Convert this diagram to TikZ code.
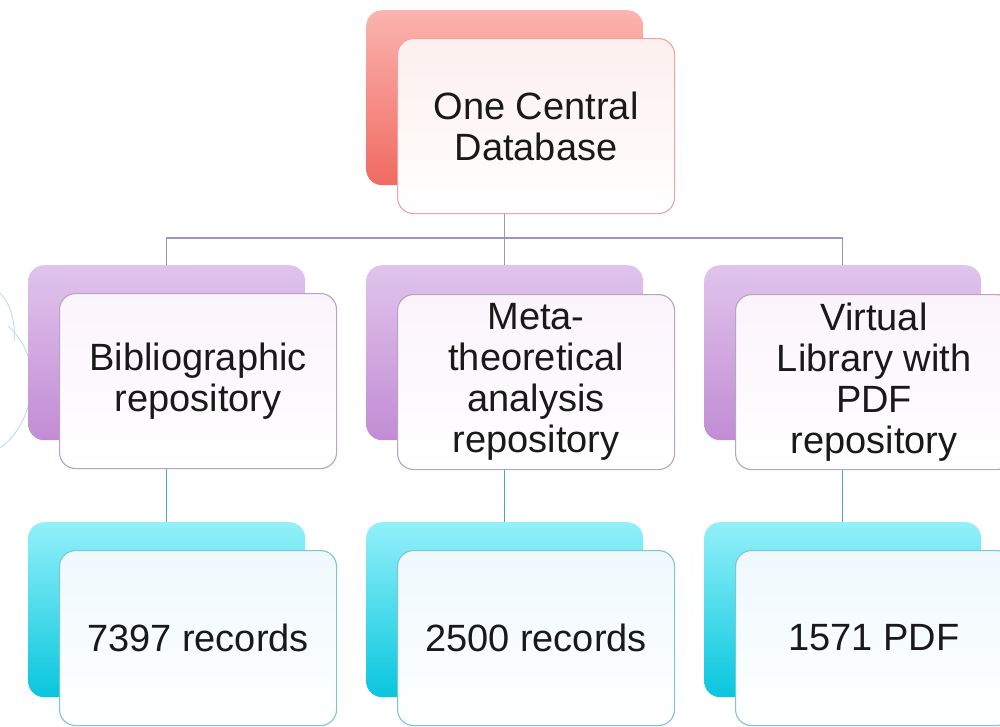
\documentclass[tikz,border=0pt]{standalone}
\usepackage{fontspec}
\setmainfont{Liberation Sans}
\begin{document}
\begin{tikzpicture}[x=1pt,y=-1pt,
  backbox/.style={anchor=north west, minimum width=277pt, minimum height=175pt, inner sep=0pt, rounded corners=16pt},
  frontbox/.style={anchor=north west, minimum width=277pt, minimum height=175pt, inner sep=0pt, rounded corners=16pt, line width=1.1pt, align=center, font=\fontsize{38}{41}\selectfont, text=black!90},
  redback/.style={backbox, top color=redA, bottom color=redB},
  purback/.style={backbox, top color=purA, bottom color=purB},
  cyaback/.style={backbox, top color=cyaA, bottom color=cyaB},
  redfront/.style={frontbox, draw=redE, top color=redF, bottom color=white},
  purfront/.style={frontbox, draw=purE, top color=purF, bottom color=white},
  cyafront/.style={frontbox, draw=cyaE, top color=cyaF, bottom color=white},
  upline/.style={draw=purL, line width=1.3pt},
  lowline/.style={draw=cyaL, line width=1.3pt},
  deco/.style={draw=decoC, line width=0.8pt}
]
\definecolor{redA}{HTML}{FBB4AE}
\definecolor{redB}{HTML}{F06A62}
\definecolor{redE}{HTML}{EBA5A5}
\definecolor{redF}{HTML}{FDEFEE}
\definecolor{purA}{HTML}{E0C4EC}
\definecolor{purB}{HTML}{C28CD4}
\definecolor{purE}{HTML}{B7A3C2}
\definecolor{purF}{HTML}{FBF4FC}
\definecolor{cyaA}{HTML}{93F0FA}
\definecolor{cyaB}{HTML}{08C6DE}
\definecolor{cyaE}{HTML}{7CC6D0}
\definecolor{cyaF}{HTML}{EFF9FD}
\definecolor{purL}{HTML}{A493B6}
\definecolor{cyaL}{HTML}{4AA9B9}
\definecolor{decoC}{HTML}{B3DDF2}
\clip (0,0) rectangle (1000,726);
\fill[white] (0,0) rectangle (1000,726);

% decorative arcs at left edge
\draw[deco] (0,293) .. controls (10,303) and (16,322) .. (14,342);
\draw[deco] (8,326) .. controls (30,345) and (36,375) .. (30,400) .. controls (24,424) and (12,440) .. (0,448);

% top
\node[redback] (topback) at (366,10) {};
\node[redfront] (topfront) at (397,38) {One Central\\Database};

% second row
\node[purback] (b1back) at (28,265) {};
\node[purfront] (b1front) at (59,293) {Bibliographic\\repository};
\node[purback] (b2back) at (366,265) {};
\node[purfront] (b2front) at (397,294) {Meta-\\theoretical\\analysis\\repository};
\node[purback] (b3back) at (704,265) {};
\node[purfront] (b3front) at (735,294) {Virtual\\Library with\\PDF\\repository};

% third row
\node[cyaback] (c1back) at (28,522) {};
\node[cyafront] (c1front) at (59,550) {7397 records};
\node[cyaback] (c2back) at (366,522) {};
\node[cyafront] (c2front) at (397,550) {2500 records};
\node[cyaback] (c3back) at (704,522) {};
\node[cyafront] (c3front) at (735,550) {1571 PDF};

% connectors
\coordinate (bus) at (504,238);
\draw[upline] (topback |- topfront.south) -- (topback |- bus);
\draw[upline] (b1back.north) |- (topback |- bus) -| (b3back.north);
\draw[upline] (topback |- bus) -- (b2back.north);
\draw[lowline] (b1back |- b1front.south) -- (c1back.north);
\draw[lowline] (b2back |- b2front.south) -- (c2back.north);
\draw[lowline] (b3back |- b3front.south) -- (c3back.north);
\end{tikzpicture}
\end{document}
